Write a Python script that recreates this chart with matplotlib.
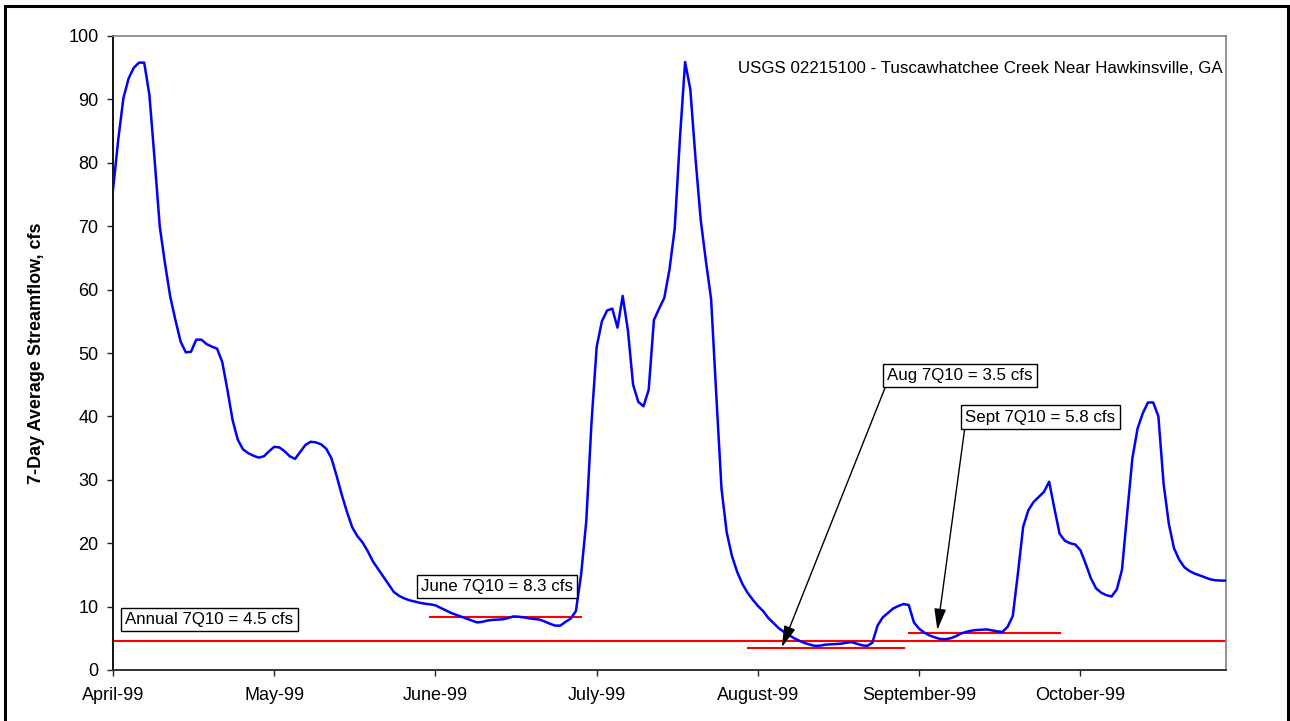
import numpy as np
import pandas as pd
import matplotlib
matplotlib.use("Agg")
import matplotlib.pyplot as plt
from matplotlib.patches import Rectangle

plt.rcParams['font.family'] = ['Liberation Sans', 'DejaVu Sans']

# Daily 7-day average streamflow (cfs), 1 April - 1 November 1999
dates = pd.date_range("1999-04-01", "1999-11-01", freq="D")
flow = [
    75.7, 83.6, 90.2, 93.3, 95.0, 95.8, 95.8, 90.7, 80.5, 69.9,
    64.1, 58.9, 55.2, 51.8, 50.1, 50.2, 52.1, 52.1, 51.4, 51.0,
    50.7, 48.6, 44.2, 39.4, 36.3, 34.8, 34.2, 33.8, 33.5, 33.7,
    34.5, 35.2, 35.1, 34.5, 33.7, 33.3, 34.4, 35.5, 36.0, 35.9,
    35.6, 34.9, 33.4, 30.6, 27.6, 24.9, 22.5, 21.1, 20.1, 18.7,
    17.1, 15.9, 14.7, 13.5, 12.3, 11.7, 11.3, 11.0, 10.8, 10.6,
    10.45, 10.35, 10.2, 9.8, 9.4, 9.0, 8.7, 8.4, 8.1, 7.8,
    7.5, 7.6, 7.8, 7.9, 7.95, 8.0, 8.2, 8.45, 8.4, 8.3,
    8.15, 8.05, 7.95, 7.65, 7.3, 7.0, 7.0, 7.6, 8.1, 9.3,
    15.0, 23.5, 39.0, 51.0, 55.0, 56.7, 57.0, 54.0, 59.0, 53.6,
    45.0, 42.3, 41.6, 44.2, 55.2, 57.0, 58.7, 63.2, 69.6, 83.8,
    95.9, 91.6, 80.7, 71.0, 64.5, 58.5, 43.3, 28.6, 21.7, 18.0,
    15.5, 13.6, 12.2, 11.1, 10.1, 9.3, 8.2, 7.4, 6.6, 6.0,
    5.5, 5.0, 4.6, 4.25, 4.0, 3.8, 3.85, 4.0, 4.05, 4.1,
    4.15, 4.3, 4.4, 4.15, 3.9, 3.8, 4.3, 7.0, 8.3, 9.0,
    9.7, 10.1, 10.4, 10.25, 7.5, 6.5, 5.9, 5.45, 5.15, 4.9,
    4.85, 5.0, 5.3, 5.75, 6.0, 6.2, 6.3, 6.35, 6.4, 6.25,
    6.1, 6.0, 6.8, 8.5, 15.3, 22.6, 25.2, 26.5, 27.3, 28.1,
    29.7, 25.5, 21.5, 20.4, 20.0, 19.8, 18.9, 16.8, 14.5, 12.9,
    12.2, 11.8, 11.6, 12.7, 15.8, 24.7, 33.4, 38.1, 40.5, 42.2,
    42.2, 40.0, 29.4, 23.1, 19.2, 17.4, 16.2, 15.6, 15.2, 14.9,
    14.6, 14.3, 14.15, 14.1, 14.1,
]

annual_7q10 = 4.5
month_names = ["June", "Aug", "Sept"]
month_7q10 = [8.3, 3.5, 5.8]
month_start = ["1999-06-01", "1999-08-01", "1999-09-01"]
month_end = ["1999-06-30", "1999-08-31", "1999-09-30"]

station = "USGS 02215100 - Tuscawhatchee Creek Near Hawkinsville, GA"
y_label = "7-Day Average Streamflow, cfs"
y_ticks = [0, 10, 20, 30, 40, 50, 60, 70, 80, 90, 100]

W, H = 1290, 721
fig = plt.figure(figsize=(W / 100, H / 100), dpi=100)
ax = fig.add_axes([113 / W, 1 - 670 / H, (1226 - 113) / W, (670 - 36) / H])

x = np.arange(len(flow))
ax.plot(x, flow, color="#0000FF", lw=1.8, zorder=3, solid_joinstyle="round")

# 7Q10 reference lines
ax.axhline(annual_7q10, color="#FF0000", lw=1.5, zorder=2)
for v, s, e in zip(month_7q10, month_start, month_end):
    i0 = dates.get_loc(pd.Timestamp(s))
    i1 = dates.get_loc(pd.Timestamp(e))
    ax.plot([i0, i1], [v, v], color="#FF0000", lw=1.5, zorder=2)

ax.set_xlim(0, len(flow) - 1)
ax.set_ylim(0, 100)
ax.set_yticks(y_ticks)
tick_idx = x[::31]
ax.set_xticks(tick_idx)
ax.set_xticklabels([dates[i].strftime("%B-%y") for i in tick_idx])
ax.tick_params(axis="both", direction="out", length=4.5, width=1.0,
               labelsize=13, color="#222222")
ax.tick_params(axis="x", pad=8)
ax.tick_params(axis="y", pad=6)

ax.set_ylabel(y_label, fontsize=13, fontweight="bold")
ax.yaxis.set_label_coords(-0.0615, 0.5)

for side in ("top", "right"):
    ax.spines[side].set_color("#808080")
    ax.spines[side].set_linewidth(1.2)
ax.spines["left"].set_color("#111111")
ax.spines["left"].set_linewidth(1.4)
ax.spines["bottom"].set_color("#333333")
ax.spines["bottom"].set_linewidth(1.4)

ax.text(0.9973, 0.9495, station, transform=ax.transAxes, ha="right",
        va="center", fontsize=12.2)

box = dict(boxstyle="square,pad=0.25", facecolor="white",
           edgecolor="black", linewidth=1.0)

ax.text(18.56, 8.0, f"Annual 7Q10 = {annual_7q10} cfs", ha="center",
        va="center", fontsize=12.2, bbox=box, zorder=5)
ax.text(73.8, 13.2, f"{month_names[0]} 7Q10 = {month_7q10[0]} cfs",
        ha="center", va="center", fontsize=12.2, bbox=box, zorder=5)

arrow = dict(arrowstyle="-|>,head_length=0.65,head_width=0.18",
             mutation_scale=20, color="black", lw=1.0, relpos=(0, 0),
             shrinkA=0, shrinkB=0)
ax.annotate(f"{month_names[1]} 7Q10 = {month_7q10[1]} cfs",
            xy=(128.6, 3.6), xytext=(162.8, 46.45), ha="center",
            va="center", fontsize=12.2, bbox=box, arrowprops=arrow, zorder=5)
ax.annotate(f"{month_names[2]} 7Q10 = {month_7q10[2]} cfs",
            xy=(158.5, 6.3), xytext=(178.3, 39.9), ha="center",
            va="center", fontsize=12.2, bbox=box, arrowprops=arrow, zorder=5)

# outer chart border
fig.patches.append(Rectangle((5 / W, -0.05), (1287.5 - 5) / W, 1.05 - 6 / H,
                             transform=fig.transFigure, fill=False,
                             edgecolor="black", linewidth=2.2))

fig.savefig("out.png", dpi=100)
